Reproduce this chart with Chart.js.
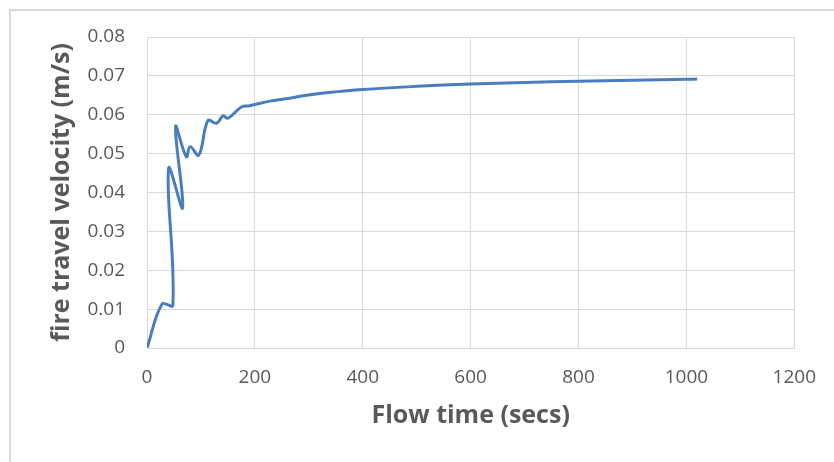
<!DOCTYPE html>
<html>
<head>
<meta charset="utf-8">
<script src="https://cdn.jsdelivr.net/npm/chart.js@4"></script>
<style>
  html, body { margin: 0; padding: 0; background: #fff; }
  #wrap { position: relative; width: 834px; height: 462px; }
  #frame { position: absolute; left: 9px; top: 9px; right: 0; bottom: 0;
           border-left: 2px solid #d9d9d9; border-top: 2px solid #d9d9d9; }
  canvas { position: absolute; left: 0; top: 0; }
</style>
</head>
<body>
<div id="wrap">
  <div id="frame"></div>
  <canvas id="myChart" width="834" height="462"></canvas>
</div>
<script>
// Flow time (secs) and fire travel velocity (m/s)
var flowTime = [0, 28, 48, 40, 66, 53, 73, 80, 96, 113, 129, 141, 150, 175, 190,
    228, 257, 296, 336, 400, 500, 600, 700, 800, 900, 1000, 1020];
var velocity = [0, 0.0113, 0.011, 0.0462, 0.036, 0.057, 0.0492, 0.0518, 0.0496, 0.0585, 0.0578, 0.0597, 0.0591, 0.062, 0.0623,
    0.0635, 0.0641, 0.0650, 0.0657, 0.0665, 0.0673, 0.0679, 0.0683, 0.0686, 0.0689, 0.0691, 0.0692];

var xTicks = [0, 200, 400, 600, 800, 1000, 1200];
var yTicks = [0, 0.01, 0.02, 0.03, 0.04, 0.05, 0.06, 0.07, 0.08];

var points = [];
for (var i = 0; i < flowTime.length; i++) {
    points.push({ x: flowTime[i], y: velocity[i] });
}

var gridColor = '#d9d9d9';
var textColor = '#595959';
var fontFamily = '"Open Sans", "Noto Sans", sans-serif';

var ctx = document.getElementById('myChart').getContext('2d');
var myChart = new Chart(ctx, {
    type: 'scatter',
    data: {
        datasets: [
            {
                label: 'fire travel velocity',
                data: points,
                showLine: true,
                borderColor: '#4a7dbe',
                borderWidth: 3,
                pointRadius: 0,
                tension: 0.4,
                fill: false
            }
        ]
    },
    options: {
        responsive: false,
        animation: false,
        layout: {
            padding: { left: 10, top: 37, right: 39, bottom: 0 }
        },
        plugins: {
            legend: { display: false },
            tooltip: { enabled: false }
        },
        scales: {
            x: {
                type: 'linear',
                min: 0,
                max: 1200,
                afterBuildTicks: function (scale) {
                    scale.ticks = xTicks.map(function (v) { return { value: v }; });
                },
                afterFit: function (scale) { scale.height = 114; },
                grid: { color: gridColor, drawTicks: false },
                border: { color: gridColor },
                ticks: {
                    color: textColor,
                    padding: 18,
                    maxRotation: 0,
                    font: { family: fontFamily, size: 19 },
                    callback: function (value) { return String(value); }
                },
                title: {
                    display: true,
                    text: 'Flow time (secs)',
                    color: textColor,
                    padding: { top: 0, bottom: 31 },
                    font: { family: fontFamily, size: 25, weight: 'bold' }
                }
            },
            y: {
                min: 0,
                max: 0.08,
                afterBuildTicks: function (scale) {
                    scale.ticks = yTicks.map(function (v) { return { value: v }; });
                },
                afterFit: function (scale) { scale.width = 137; },
                grid: { color: gridColor, drawTicks: false },
                border: { color: gridColor },
                ticks: {
                    color: textColor,
                    padding: 22,
                    font: { family: fontFamily, size: 19 },
                    callback: function (value) {
                        return value === 0 ? '0' : value.toFixed(2);
                    }
                },
                title: {
                    display: true,
                    text: 'fire travel velocity (m/s)',
                    color: textColor,
                    padding: { top: 37, bottom: 0 },
                    font: { family: fontFamily, size: 25, weight: 'bold' }
                }
            }
        }
    }
});
</script>
</body>
</html>
